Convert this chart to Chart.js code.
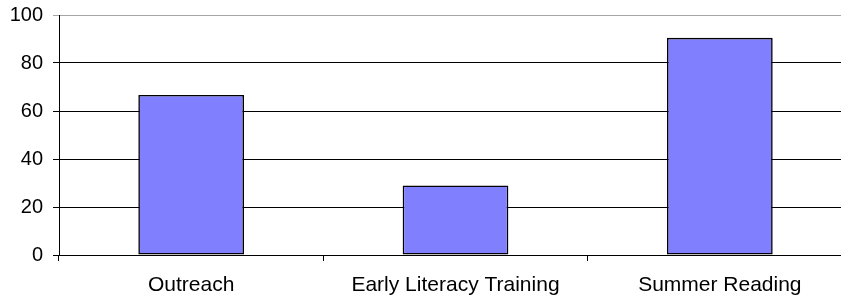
<!DOCTYPE html>
<html>
<head>
<meta charset="utf-8">
<script src="https://cdn.jsdelivr.net/npm/chart.js@4"></script>
<style>
  html, body { margin: 0; padding: 0; background: #fff; overflow: hidden; }
  #wrap { position: relative; width: 852px; height: 303px; }
</style>
</head>
<body>
<div id="wrap"><canvas id="c"></canvas></div>
<script>
const categories = ["Outreach", "Early Literacy Training", "Summer Reading"];
const values = [66.7, 29, 90.5];
const yTicks = [0, 20, 40, 60, 80, 100];

const YFONT = { family: "'Liberation Sans', Arial, sans-serif", size: 20 };
const XFONT = { family: "'Liberation Sans', Arial, sans-serif", size: 21 };

new Chart(document.getElementById('c'), {
  type: 'bar',
  data: {
    labels: categories,
    datasets: [{
      data: values,
      backgroundColor: '#8080FF',
      borderColor: '#000000',
      borderWidth: 1.6,
      borderSkipped: false,
      categoryPercentage: 1.0,
      barPercentage: 0.4
    }]
  },
  options: {
    responsive: true,
    maintainAspectRatio: false,
    animation: false,
    devicePixelRatio: 1,
    layout: { padding: { top: 15, right: 0, bottom: 0, left: 0 } },
    plugins: { legend: { display: false }, tooltip: { enabled: false } },
    scales: {
      x: {
        offset: true,
        grid: {
          offset: true,
          drawOnChartArea: false,
          drawTicks: true,
          tickLength: 6,
          color: '#000',
          lineWidth: 1
        },
        border: { display: true, color: '#000', width: 1 },
        ticks: { color: '#000', font: XFONT, padding: 12, maxRotation: 0, autoSkip: false },
        afterFit: (s) => { s.height = 48; s.paddingLeft = 0; s.paddingRight = 0; }
      },
      y: {
        min: 0,
        max: 100,
        afterBuildTicks: (s) => { s.ticks = yTicks.map(v => ({ value: v })); },
        grid: {
          color: (ctx) => (ctx.tick && ctx.tick.value === 100) ? '#a6a6a6' : '#000',
          lineWidth: 1,
          drawTicks: true,
          tickLength: 6
        },
        border: { display: true, color: '#000', width: 1 },
        ticks: { color: '#000', font: YFONT, padding: 10 },
        afterFit: (s) => { s.width = 59; s.paddingTop = 0; s.paddingBottom = 0; }
      }
    }
  }
});
</script>
</body>
</html>
